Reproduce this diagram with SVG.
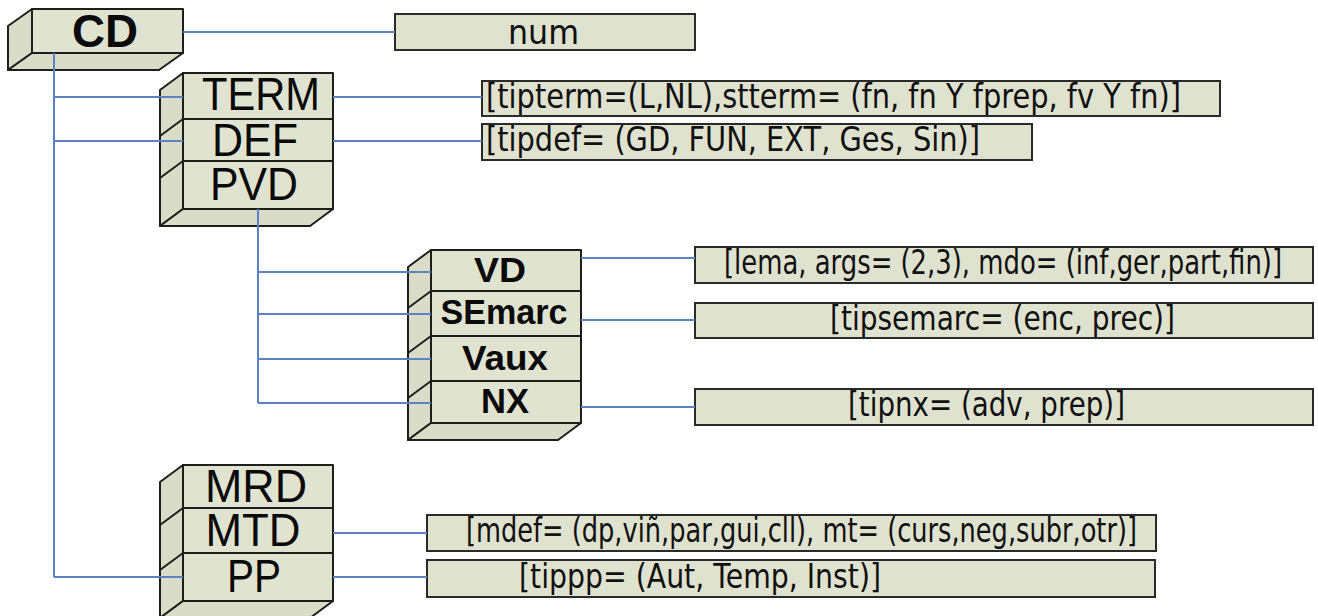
<svg xmlns="http://www.w3.org/2000/svg" width="1318" height="616" viewBox="0 0 1318 616">
<style>
.face{fill:#e0e3d0;stroke:#1e1e1e;stroke-width:2;stroke-linejoin:round}
.side{fill:#d9ddc7;stroke:#1e1e1e;stroke-width:2;stroke-linejoin:round}
.div{stroke:#1e1e1e;stroke-width:2;fill:none}
.attr{fill:#dfe2cf;stroke:#2a2a2a;stroke-width:2}
.big{font-family:"Liberation Sans",Arial,sans-serif;font-size:47px;fill:#0a0a0a;text-anchor:middle}
.bold{font-family:"Liberation Sans",Arial,sans-serif;font-weight:bold;font-size:35px;fill:#0a0a0a;text-anchor:middle}
.at{font-family:"DejaVu Sans",Tahoma,sans-serif;font-size:33px;fill:#111}
.conn{stroke:#5b83c2;stroke-width:2;fill:none}
</style>
<rect width="1318" height="616" fill="#ffffff"/>

<g id="node-CD">
<polygon class="side" points="32,9 8,26 8,70 32,53"/>
<polygon class="side" points="32,53 183,53 159,70 8,70"/>
<rect class="face" x="32" y="9" width="151" height="44"/>
<text class="bold" x="105" y="47" style="font-size:46px" textLength="66" lengthAdjust="spacingAndGlyphs">CD</text>
</g>

<g id="node-num">
<rect class="attr" x="395" y="14" width="300" height="36"/>
<text class="at" x="508" y="44" textLength="71" lengthAdjust="spacingAndGlyphs">num</text>
</g>

<g id="node-TERM">
<polygon class="side" points="183,73 160,90 160,226 183,209"/>
<polygon class="side" points="183,209 333,209 310,226 160,226"/>
<rect class="face" x="183" y="73" width="150" height="136"/>
<line class="div" x1="183" y1="119" x2="333" y2="119"/>
<line class="div" x1="183" y1="161" x2="333" y2="161"/>
<line class="div" x1="183" y1="119" x2="160" y2="136"/>
<line class="div" x1="183" y1="161" x2="160" y2="178"/>
<text class="big" x="261" y="110" textLength="118" lengthAdjust="spacingAndGlyphs">TERM</text>
<text class="big" x="255" y="156" textLength="86" lengthAdjust="spacingAndGlyphs">DEF</text>
<text class="big" x="254" y="200" textLength="88" lengthAdjust="spacingAndGlyphs">PVD</text>
</g>

<g id="node-tipterm">
<rect class="attr" x="482" y="81" width="738" height="35"/>
<text class="at" x="486" y="108" textLength="695" lengthAdjust="spacingAndGlyphs">[tipterm=(L,NL),stterm= (fn, fn Y fprep, fv Y fn)]</text>
</g>

<g id="node-tipdef">
<rect class="attr" x="482" y="124" width="550" height="36"/>
<text class="at" x="486" y="151" textLength="494" lengthAdjust="spacingAndGlyphs">[tipdef= (GD, FUN, EXT, Ges, Sin)]</text>
</g>

<g id="node-VD">
<polygon class="side" points="431,250 408,267 408,440 431,423"/>
<polygon class="side" points="431,423 581,423 558,440 408,440"/>
<rect class="face" x="431" y="250" width="150" height="173"/>
<line class="div" x1="431" y1="291" x2="581" y2="291"/>
<line class="div" x1="431" y1="336" x2="581" y2="336"/>
<line class="div" x1="431" y1="381" x2="581" y2="381"/>
<line class="div" x1="431" y1="291" x2="408" y2="308"/>
<line class="div" x1="431" y1="336" x2="408" y2="353"/>
<line class="div" x1="431" y1="381" x2="408" y2="398"/>
<text class="bold" x="500" y="282" textLength="52" lengthAdjust="spacingAndGlyphs">VD</text>
<text class="bold" x="504" y="324" textLength="127" lengthAdjust="spacingAndGlyphs">SEmarc</text>
<text class="bold" x="505" y="370" textLength="86" lengthAdjust="spacingAndGlyphs">Vaux</text>
<text class="bold" x="505" y="413" textLength="48" lengthAdjust="spacingAndGlyphs">NX</text>
</g>

<g id="node-lema">
<rect class="attr" x="695" y="247" width="618" height="36"/>
<text class="at" x="724" y="274" textLength="558" lengthAdjust="spacingAndGlyphs">[lema, args= (2,3), mdo= (inf,ger,part,fin)]</text>
</g>

<g id="node-tipsemarc">
<rect class="attr" x="695" y="303" width="618" height="35"/>
<text class="at" x="830" y="330" textLength="345" lengthAdjust="spacingAndGlyphs">[tipsemarc= (enc, prec)]</text>
</g>

<g id="node-tipnx">
<rect class="attr" x="695" y="389" width="618" height="36"/>
<text class="at" x="848" y="416" textLength="277" lengthAdjust="spacingAndGlyphs">[tipnx= (adv, prep)]</text>
</g>

<g id="node-MRD">
<polygon class="side" points="183,465 160,482 160,618 183,601"/>
<polygon class="side" points="183,601 333,601 310,618 160,618"/>
<rect class="face" x="183" y="465" width="150" height="136"/>
<line class="div" x1="183" y1="508" x2="333" y2="508"/>
<line class="div" x1="183" y1="553" x2="333" y2="553"/>
<line class="div" x1="183" y1="508" x2="160" y2="525"/>
<line class="div" x1="183" y1="553" x2="160" y2="570"/>
<text class="big" x="256" y="502" textLength="102" lengthAdjust="spacingAndGlyphs">MRD</text>
<text class="big" x="253" y="546" textLength="95" lengthAdjust="spacingAndGlyphs">MTD</text>
<text class="big" x="254" y="592" textLength="54" lengthAdjust="spacingAndGlyphs">PP</text>
</g>

<g id="node-mdef">
<rect class="attr" x="427" y="515" width="729" height="36"/>
<text class="at" x="466" y="542" textLength="671" lengthAdjust="spacingAndGlyphs">[mdef= (dp,viñ,par,gui,cll), mt= (curs,neg,subr,otr)]</text>
</g>

<g id="node-tippp">
<rect class="attr" x="427" y="560" width="728" height="37"/>
<text class="at" x="519" y="588" textLength="362" lengthAdjust="spacingAndGlyphs">[tippp= (Aut, Temp, Inst)]</text>
</g>

<g id="connectors">
<line class="conn" x1="183" y1="32" x2="395" y2="32"/>
<line class="conn" x1="54" y1="53" x2="54" y2="577"/>
<line class="conn" x1="54" y1="97" x2="183" y2="97"/>
<line class="conn" x1="54" y1="141" x2="183" y2="141"/>
<line class="conn" x1="54" y1="577" x2="183" y2="577"/>
<line class="conn" x1="333" y1="97" x2="482" y2="97"/>
<line class="conn" x1="333" y1="141" x2="482" y2="141"/>
<line class="conn" x1="258" y1="209" x2="258" y2="403"/>
<line class="conn" x1="258" y1="272" x2="431" y2="272"/>
<line class="conn" x1="258" y1="314" x2="431" y2="314"/>
<line class="conn" x1="258" y1="359" x2="431" y2="359"/>
<line class="conn" x1="258" y1="403" x2="431" y2="403"/>
<line class="conn" x1="581" y1="258" x2="695" y2="258"/>
<line class="conn" x1="581" y1="320" x2="695" y2="320"/>
<line class="conn" x1="581" y1="407" x2="695" y2="407"/>
<line class="conn" x1="333" y1="533" x2="427" y2="533"/>
<line class="conn" x1="333" y1="577" x2="427" y2="577"/>
</g>
</svg>
